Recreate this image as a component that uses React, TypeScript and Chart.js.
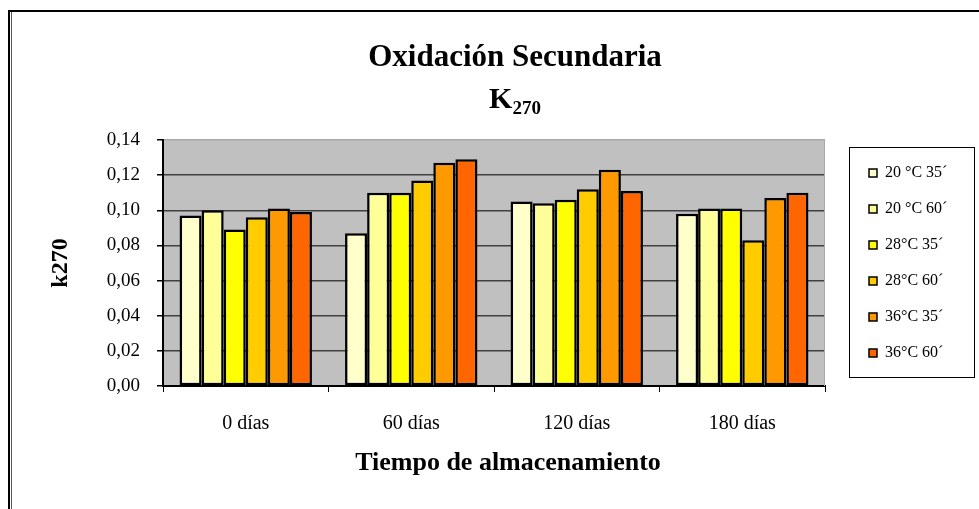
import React, { useEffect, useRef } from 'react';
import { Chart, registerables } from 'chart.js';

Chart.register(...registerables);

const categories = ['0 días', '60 días', '120 días', '180 días'];
const seriesLabels = ['20 °C 35´', '20 °C 60´', '28°C 35´', '28°C 60´', '36°C 35´', '36°C 60´'];
const s20_35 = [0.097, 0.087, 0.105, 0.098];
const s20_60 = [0.100, 0.110, 0.104, 0.101];
const s28_35 = [0.089, 0.110, 0.106, 0.101];
const s28_60 = [0.096, 0.117, 0.112, 0.083];
const s36_35 = [0.101, 0.127, 0.123, 0.107];
const s36_60 = [0.099, 0.129, 0.111, 0.110];
const seriesValues = [s20_35, s20_60, s28_35, s28_60, s36_35, s36_60];
const seriesColors = ['#FFFFCC', '#FFFF99', '#FFFF00', '#FFCC00', '#FF9900', '#FF6600'];
const yTickLabels = ['0,00', '0,02', '0,04', '0,06', '0,08', '0,10', '0,12', '0,14'];
const chartTitle = 'Oxidación Secundaria';
const kMain = 'K';
const kSub = '270';
const xTitle = 'Tiempo de almacenamiento';
const yTitle = 'k270';

const W = 979;
const H = 509;
const SERIF = '"Liberation Serif", "Times New Roman", serif';

const decor = {
  id: 'decor',
  beforeDraw(chart: any) {
    const { ctx, chartArea: a } = chart;
    ctx.save();
    ctx.fillStyle = '#C0C0C0';
    ctx.fillRect(a.left, a.top, a.right - a.left, a.bottom - a.top);
    ctx.restore();
  },
  afterDraw(chart: any) {
    const { ctx, chartArea: a, legend } = chart;
    ctx.save();
    // outer frame
    ctx.fillStyle = '#000';
    ctx.fillRect(8, 10, chart.width - 8, 2);
    ctx.fillRect(8, 10, 2, chart.height - 10);
    ctx.fillStyle = '#555';
    ctx.fillRect(11, 12, 1, chart.height - 12);
    // plot right edge
    ctx.strokeStyle = '#a8a8a8';
    ctx.lineWidth = 1;
    ctx.beginPath();
    ctx.moveTo(a.right - 0.5, a.top);
    ctx.lineTo(a.right - 0.5, a.bottom);
    ctx.stroke();
    // legend frame
    if (legend) {
      const lx = Math.round(legend.left);
      ctx.strokeStyle = '#000';
      ctx.lineWidth = 1;
      ctx.strokeRect(lx + 0.5, a.top + 7.5, 125, 230);
    }
    // main title
    const cx = 515;
    ctx.fillStyle = '#000';
    ctx.textAlign = 'center';
    ctx.textBaseline = 'alphabetic';
    ctx.font = 'bold 31px ' + SERIF;
    ctx.fillText(chartTitle, cx, 66);
    // K270 with subscript
    ctx.font = 'bold 30px ' + SERIF;
    const kw = ctx.measureText(kMain).width;
    ctx.font = 'bold 19px ' + SERIF;
    const sw = ctx.measureText(kSub).width;
    const start = cx - (kw + sw) / 2;
    ctx.textAlign = 'left';
    ctx.font = 'bold 30px ' + SERIF;
    ctx.fillText(kMain, start, 108);
    ctx.font = 'bold 19px ' + SERIF;
    ctx.fillText(kSub, start + kw, 114);
    // x axis title
    ctx.textAlign = 'center';
    ctx.textBaseline = 'middle';
    ctx.font = 'bold 26px ' + SERIF;
    ctx.fillText(xTitle, 508, 463);
    ctx.restore();
  },
};

export default function App() {
  const ref = useRef<HTMLCanvasElement>(null);

  useEffect(() => {
    const canvas = ref.current;
    if (!canvas) return;
    const legendFont = 16;
    const mctx = canvas.getContext('2d')!;
    mctx.font = legendFont + 'px ' + SERIF;
    const tw = Math.max(...seriesLabels.map((l) => mctx.measureText(l).width));
    const legendPad = 20;
    const boxW = 8;
    const legendWidth = legendPad + boxW + legendFont / 2 + tw + 10;
    const gapAxis = 869 - 825 - legendPad;
    const plotRight = 825;
    const padRight = Math.max(0, W - plotRight - gapAxis - legendWidth);

    const chart = new Chart(canvas, {
      type: 'bar',
      data: {
        labels: categories,
        datasets: seriesValues.map((vals, i) => ({
          label: seriesLabels[i],
          data: vals,
          backgroundColor: seriesColors[i],
          borderColor: '#000',
          borderWidth: 2.5,
          borderSkipped: false,
          categoryPercentage: 0.8,
          barPercentage: 1.0,
          yAxisID: 'y',
        })),
      },
      options: {
        responsive: false,
        animation: false,
        devicePixelRatio: 1,
        layout: { padding: { top: 140, left: 30, bottom: 63, right: padRight } },
        plugins: {
          title: { display: false },
          tooltip: { enabled: false },
          legend: {
            position: 'right',
            fullSize: false,
            align: 'center',
            labels: {
              boxWidth: boxW,
              boxHeight: boxW,
              padding: legendPad,
              color: '#000',
              font: { family: SERIF, size: legendFont },
              generateLabels: (c: any) =>
                (Chart.defaults.plugins.legend.labels as any)
                  .generateLabels(c)
                  .map((l: any) => ({ ...l, lineWidth: 1.5 })),
            },
          },
        },
        scales: {
          x: {
            ticks: { padding: 20, color: '#000', font: { family: SERIF, size: 20 } },
            grid: { drawOnChartArea: false, drawTicks: true, tickLength: 6, tickColor: '#000', offset: true },
            border: { color: '#000', width: 2 },
            afterFit: (s: any) => { s.height = 60; },
          },
          y: {
            min: 0,
            max: 0.14,
            ticks: {
              stepSize: 0.02,
              padding: 17,
              color: '#000',
              font: { family: SERIF, size: 19 },
              callback: (_v: any, i: number) => yTickLabels[i],
            },
            grid: {
              color: (c: any) => (c.tick && c.tick.value > 0.139 ? '#a8a8a8' : '#404040'),
              lineWidth: 1.5,
              tickColor: '#000',
              tickLength: 6,
              drawTicks: true,
            },
            border: { color: '#000', width: 2 },
            title: {
              display: true,
              text: yTitle,
              color: '#000',
              font: { family: SERIF, size: 24, weight: 'bold' },
              padding: { top: 16, bottom: 0 },
            },
            afterFit: (s: any) => { s.width = 133; },
          },
          yGap: {
            position: 'right',
            display: true,
            grid: { display: false, drawTicks: false },
            ticks: { display: false },
            border: { display: false },
            afterFit: (s: any) => { s.width = gapAxis; },
          },
        },
      } as any,
      plugins: [decor],
    });
    return () => chart.destroy();
  }, []);

  return (
    <div style={{ position: 'absolute', left: 0, top: 0, width: W, height: H, background: '#fff' }}>
      <canvas ref={ref} width={W} height={H} style={{ width: W, height: H, display: 'block' }} />
    </div>
  );
}
